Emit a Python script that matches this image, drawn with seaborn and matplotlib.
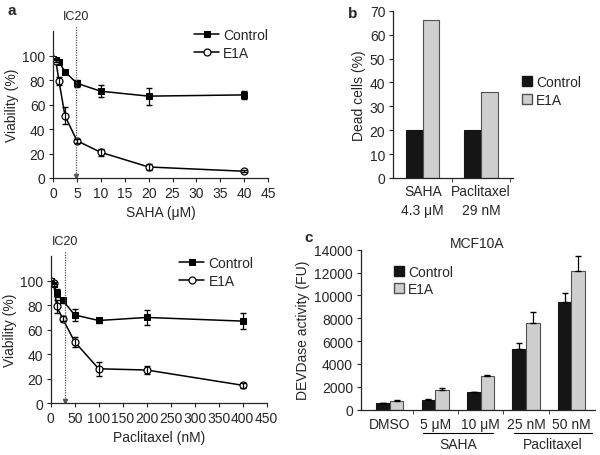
import matplotlib
matplotlib.use('Agg')
import matplotlib.pyplot as plt
import matplotlib.transforms as mtransforms
from matplotlib.patches import Patch
import numpy as np
import pandas as pd
import seaborn as sns

# --- panel a (top): SAHA dose response ---
saha_dose = [0, 0.6, 1.25, 2.5, 5, 10, 20, 40]
saha_ctrl = [97, 96.5, 95, 87, 77.5, 71, 67, 68]
saha_ctrl_err = [0, 0, 1.5, 1.5, 3, 5, 7, 3]
saha_e1a = [97, 96, 79.5, 51, 30.5, 21, 9, 5.5]
saha_e1a_err = [0, 1, 3, 7, 1.5, 3, 2.5, 1]
saha_ic20 = 4.8

# --- panel a (bottom): Paclitaxel dose response ---
pac_dose = [0, 6.25, 12.5, 25, 50, 100, 200, 400]
pac_ctrl = [100, 97, 90, 84, 72, 67.5, 70, 67]
pac_ctrl_err = [0, 1, 3, 2, 5, 2, 6, 6.5]
pac_e1a = [100, 98, 79, 69, 50, 28, 27, 14.5]
pac_e1a_err = [0, 1, 5, 2, 4, 5.5, 3, 2]
pac_ic20 = 30

# --- panel b: dead cells ---
dead_drugs = ['SAHA\n4.3 \u03bcM', 'Paclitaxel\n29 nM']
dead_ctrl = [20, 20]
dead_e1a = [66, 36]

# --- panel c: DEVDase activity ---
devd_labels = ['DMSO', '5 \u03bcM', '10 \u03bcM', '25 nM', '50 nM']
devd_ctrl = [550, 850, 1530, 5350, 9400]
devd_ctrl_err = [50, 100, 60, 450, 850]
devd_e1a = [780, 1720, 2920, 7580, 12180]
devd_e1a_err = [50, 170, 100, 950, 1250]

CTRL_COLOR = '#151515'
E1A_COLOR = '#cfcfcf'
E1A_EDGE = '#505050'

sns.set_style('ticks')
plt.rcParams['font.family'] = ['Liberation Sans', 'DejaVu Sans']
plt.rcParams['font.size'] = 10
plt.rcParams['axes.linewidth'] = 0.9
plt.rcParams['xtick.major.size'] = 3
plt.rcParams['ytick.major.size'] = 3
plt.rcParams['xtick.minor.size'] = 3
plt.rcParams['xtick.major.pad'] = 2.5
plt.rcParams['ytick.major.pad'] = 2.5

fig = plt.figure(figsize=(6, 4.56), dpi=100)


def dose_panel(ax, dose, ctrl, ctrl_err, e1a, e1a_err, ic20, xmax, xstep, xlabel, leg_anchor):
    sns.lineplot(x=dose, y=ctrl, ax=ax, color='black', marker='s', markersize=5,
                 markerfacecolor='black', markeredgecolor='black', linewidth=1.1, label='Control')
    sns.lineplot(x=dose, y=e1a, ax=ax, color='black', marker='o', markersize=5,
                 markerfacecolor='white', markeredgecolor='black', markeredgewidth=0.9,
                 linewidth=1.1, label='E1A')
    ax.errorbar(dose, ctrl, yerr=ctrl_err, fmt='none', ecolor='black', elinewidth=0.9, capsize=2.5)
    ax.errorbar(dose, e1a, yerr=e1a_err, fmt='none', ecolor='black', elinewidth=0.9, capsize=2.5)
    ax.set_xlim(0, xmax)
    ax.set_ylim(0, 120)
    ax.set_xticks(np.arange(0, xmax + 1, xstep))
    ax.set_yticks(np.arange(0, 101, 20))
    ax.set_xlabel(xlabel, fontsize=10)
    ax.set_ylabel('Viability (%)', fontsize=10, labelpad=2)
    ax.tick_params(labelsize=10)
    sns.despine(ax=ax)
    # IC20 marker line
    ax.plot([ic20, ic20], [0, 124], linestyle=(0, (1, 1)), color='#555555', linewidth=0.9, clip_on=False)
    ax.plot([ic20], [2], marker='v', color='#555555', markersize=3, clip_on=False)
    ax.text(ic20, 128, 'IC20', ha='center', va='bottom', fontsize=9, clip_on=False)
    ax.legend(loc='upper left', bbox_to_anchor=leg_anchor, frameon=False, fontsize=10,
              handlelength=1.8, handletextpad=0.3, labelspacing=0.3, borderaxespad=0)


# panel a top
ax1 = fig.add_axes([0.0883, 0.6075, 0.3587, 0.3215])
dose_panel(ax1, saha_dose, saha_ctrl, saha_ctrl_err, saha_e1a, saha_e1a_err, saha_ic20,
           45, 5, 'SAHA (\u03bcM)', (0.63, 1.06))

# panel a bottom
ax2 = fig.add_axes([0.0845, 0.114, 0.36, 0.3217])
dose_panel(ax2, pac_dose, pac_ctrl, pac_ctrl_err, pac_e1a, pac_e1a_err, pac_ic20,
           450, 50, 'Paclitaxel (nM)', (0.57, 1.04))

# panel b
ax3 = fig.add_axes([0.655, 0.6075, 0.2, 0.3665])
dead_df = pd.DataFrame({
    'drug': dead_drugs * 2,
    'group': ['Control'] * 2 + ['E1A'] * 2,
    'value': dead_ctrl + dead_e1a,
})
sns.barplot(data=dead_df, x='drug', y='value', hue='group', ax=ax3, width=0.57,
            palette={'Control': CTRL_COLOR, 'E1A': E1A_COLOR}, saturation=1, legend=False)
for bar, ec in zip(ax3.patches, [CTRL_COLOR] * 2 + [E1A_EDGE] * 2):
    bar.set_edgecolor(ec)
    bar.set_linewidth(0.8)
ax3.set_xlim(-0.51, 1.55)
ax3.set_ylim(0, 70)
ax3.set_yticks(np.arange(0, 71, 10))
ax3.set_xlabel('')
ax3.set_ylabel('Dead cells (%)', fontsize=10, labelpad=3)
ax3.tick_params(axis='x', length=0, pad=4)
ax3.set_xticks([0.5, 1.5], minor=True)
ax3.tick_params(axis='x', which='minor', length=3)
ax3.tick_params(labelsize=10)
for lab in ax3.get_xticklabels():
    lab.set_linespacing(1.5)
sns.despine(ax=ax3)
ax3.legend(handles=[Patch(facecolor=CTRL_COLOR, edgecolor=CTRL_COLOR, label='Control'),
                    Patch(facecolor=E1A_COLOR, edgecolor=E1A_EDGE, label='E1A')],
           loc='center left', bbox_to_anchor=(1.03, 0.52), frameon=False, fontsize=10,
           handlelength=0.7, handleheight=0.7, handletextpad=0.3, labelspacing=0.3, borderaxespad=0)

# panel c
ax4 = fig.add_axes([0.601, 0.0994, 0.39, 0.3508])
devd_df = pd.DataFrame({
    'cond': devd_labels * 2,
    'group': ['Control'] * 5 + ['E1A'] * 5,
    'value': devd_ctrl + devd_e1a,
})
sns.barplot(data=devd_df, x='cond', y='value', hue='group', ax=ax4, width=0.6,
            palette={'Control': CTRL_COLOR, 'E1A': E1A_COLOR}, saturation=1, legend=False)
for bar, ec in zip(ax4.patches, [CTRL_COLOR] * 5 + [E1A_EDGE] * 5):
    bar.set_edgecolor(ec)
    bar.set_linewidth(0.8)
xpos = np.arange(len(devd_labels))
ax4.errorbar(xpos - 0.15, devd_ctrl, yerr=[[0] * 5, devd_ctrl_err], fmt='none',
             ecolor='black', elinewidth=0.9, capsize=2.5)
ax4.errorbar(xpos + 0.15, devd_e1a, yerr=[[0] * 5, devd_e1a_err], fmt='none',
             ecolor='black', elinewidth=0.9, capsize=2.5)
ax4.set_xlim(-0.645, 4.51)
ax4.set_ylim(0, 14000)
ax4.set_yticks(np.arange(0, 14001, 2000))
ax4.set_xlabel('')
ax4.set_ylabel('DEVDase activity (FU)', fontsize=10, labelpad=3)
ax4.tick_params(axis='x', length=0, pad=5.5)
ax4.set_xticks([0.5, 1.5, 2.5, 3.5], minor=True)
ax4.tick_params(axis='x', which='minor', length=3)
ax4.tick_params(labelsize=10)
ax4.set_title('MCF10A', fontsize=10, pad=2)
sns.despine(ax=ax4)
ax4.legend(handles=[Patch(facecolor=CTRL_COLOR, edgecolor=CTRL_COLOR, label='Control'),
                    Patch(facecolor=E1A_COLOR, edgecolor=E1A_EDGE, label='E1A')],
           loc='upper left', bbox_to_anchor=(0.12, 0.94), frameon=False, fontsize=10,
           handlelength=0.7, handleheight=0.7, handletextpad=0.3, labelspacing=0.2, borderaxespad=0)
# group brackets under the tick labels
trans = mtransforms.blended_transform_factory(ax4.transData, ax4.transAxes)
for x0, x1, name in [(0.73, 2.27, 'SAHA'), (2.74, 4.45, 'Paclitaxel')]:
    ax4.plot([x0, x1], [-0.147, -0.147], color='black', linewidth=0.8, transform=trans, clip_on=False)
    ax4.text((x0 + x1) / 2, -0.17, name, ha='center', va='top', fontsize=10, transform=trans)

# panel letters
fig.text(0.012, 0.975, 'a', fontsize=11, fontweight='bold', va='center')
fig.text(0.58, 0.97, 'b', fontsize=11, fontweight='bold', va='center')
fig.text(0.508, 0.478, 'c', fontsize=11, fontweight='bold', va='center')

fig.savefig('out.png', dpi=100)
plt.close(fig)
